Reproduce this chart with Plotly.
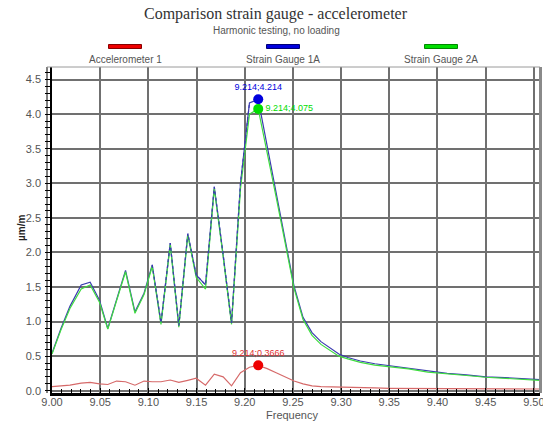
import plotly.graph_objects as go

# ---------------- data ----------------
freq = [9.000, 9.0093, 9.0186, 9.0303, 9.0396, 9.0493, 9.0579, 9.0670, 9.0763, 9.0861,
        9.0955, 9.1040, 9.1131, 9.1227, 9.1316, 9.1409, 9.1496, 9.1593, 9.1684, 9.1776,
        9.1863, 9.1956, 9.2049, 9.2140, 9.2233, 9.2326, 9.2419, 9.2512, 9.2605, 9.2698,
        9.2791, 9.2884, 9.2977, 9.3070, 9.3200, 9.3350, 9.3500, 9.3700, 9.3900, 9.4100,
        9.4300, 9.4500, 9.4700, 9.4900, 9.5060]

strain_1a = [0.54, 0.90, 1.22, 1.53, 1.57, 1.31, 0.90, 1.32, 1.74, 1.14,
             1.41, 1.82, 0.98, 2.135, 0.94, 2.27, 1.675, 1.53, 2.95, 1.965,
             0.98, 3.00, 4.16, 4.214, 3.54, 2.86, 2.19, 1.51, 1.06, 0.84,
             0.71, 0.62, 0.53, 0.48, 0.43, 0.39, 0.36, 0.33, 0.28, 0.25,
             0.23, 0.20, 0.19, 0.17, 0.16]

strain_2a = [0.53, 0.88, 1.19, 1.47, 1.53, 1.28, 0.89, 1.31, 1.72, 1.12,
             1.39, 1.80, 0.96, 2.11, 0.92, 2.25, 1.64, 1.47, 2.92, 1.94,
             0.96, 2.92, 4.00, 4.075, 3.45, 2.80, 2.14, 1.48, 1.03, 0.80,
             0.67, 0.58, 0.50, 0.46, 0.41, 0.37, 0.345, 0.315, 0.27, 0.24,
             0.22, 0.195, 0.18, 0.165, 0.15]

accel_1 = [0.06, 0.07, 0.08, 0.11, 0.12, 0.10, 0.09, 0.14, 0.13, 0.08,
           0.14, 0.13, 0.13, 0.155, 0.12, 0.15, 0.18, 0.08, 0.24, 0.20,
           0.07, 0.26, 0.34, 0.3666, 0.32, 0.26, 0.20, 0.14, 0.10, 0.07,
           0.06, 0.055, 0.05, 0.045, 0.04, 0.04, 0.035, 0.035, 0.03, 0.03,
           0.03, 0.03, 0.025, 0.025, 0.025]

series_names = ["Accelerometer 1", "Strain Gauge 1A", "Strain Gauge 2A"]
peak_freq = 9.214
peak_vals = {"Accelerometer 1": 0.3666, "Strain Gauge 1A": 4.214, "Strain Gauge 2A": 4.075}

# ---------------- layout helpers ----------------
W, H = 543, 423
L, R, T, B = 52, 3, 67, 30
PW, PH = W - L - R, H - T - B


def px(x):
    return (x - L) / PW


def py(y):
    return (H - B - y) / PH


FONT = "Liberation Sans, Arial, sans-serif"
line_cols = {"Accelerometer 1": "#d66a6a", "Strain Gauge 1A": "#3b3bb0", "Strain Gauge 2A": "#3fdc3f"}
mark_cols = {"Accelerometer 1": "#ee0000", "Strain Gauge 1A": "#0000dd", "Strain Gauge 2A": "#00dd00"}

fig = go.Figure()
fig.add_trace(go.Scatter(x=freq, y=accel_1, mode="lines", line=dict(color=line_cols["Accelerometer 1"], width=1.2)))
fig.add_trace(go.Scatter(x=freq, y=strain_1a, mode="lines", line=dict(color=line_cols["Strain Gauge 1A"], width=1.2)))
fig.add_trace(go.Scatter(x=freq, y=strain_2a, mode="lines", line=dict(color=line_cols["Strain Gauge 2A"], width=1.2)))
# overlapping region drawn dashed (as in the reference)
i0, i1 = 11, 23
fig.add_trace(go.Scatter(x=freq[i0:i1], y=strain_1a[i0:i1], mode="lines",
                         line=dict(color=line_cols["Strain Gauge 1A"], width=1.2, dash="3px,3px")))

# peak markers
positions = {"Accelerometer 1": "top center", "Strain Gauge 1A": "top center", "Strain Gauge 2A": "middle right"}
for name in series_names:
    v = peak_vals[name]
    fig.add_trace(go.Scatter(
        x=[peak_freq], y=[v], mode="markers+text",
        marker=dict(color=mark_cols[name], size=10),
        text=[f"{peak_freq:.3f};{v:g}"], textposition=positions[name],
        textfont=dict(family=FONT, size=9, color=mark_cols[name] if name != "Accelerometer 1" else "#e03030"),
    ))

fig.update_layout(
    width=W, height=H, margin=dict(l=L, r=R, t=T, b=B, autoexpand=False),
    paper_bgcolor="white", plot_bgcolor="white", showlegend=False,
    font=dict(family=FONT, size=10, color="#555"),
)

fig.update_xaxes(
    range=[9.0, 9.5064], dtick=0.05, tick0=9.0, tickformat=".2f", automargin=False,
    showgrid=True, gridcolor="#707070", gridwidth=1.5, zeroline=False,
    showline=True, linecolor="black", linewidth=2.5,
    ticks="inside", ticklen=5, tickcolor="black",
    minor=dict(dtick=0.01, ticks="inside", ticklen=4, tickcolor="black", showgrid=False),
    tickfont=dict(family=FONT, size=11, color="#555"),
    ticklabeloverflow="allow",
)
fig.update_yaxes(
    range=[-0.033, 4.681], dtick=0.5, tick0=0, tickformat=".1f", automargin=False,
    showgrid=True, gridcolor="#707070", gridwidth=1.5, zeroline=False,
    showline=True, linecolor="black", linewidth=1.5,
    ticks="outside", ticklen=5, tickcolor="black",
    minor=dict(dtick=0.1, ticks="outside", ticklen=5, tickcolor="black", showgrid=False),
    tickfont=dict(family=FONT, size=11, color="#555"),
    ticklabelstandoff=2,
)

shapes = [
    # outer ladder line of y axis
    dict(type="line", xref="paper", yref="paper", x0=px(47), x1=px(47), y0=0, y1=1,
         line=dict(color="black", width=1)),
    # right and top borders
    dict(type="line", xref="paper", yref="paper", x0=px(540.5), x1=px(540.5), y0=0, y1=1,
         line=dict(color="#8a8a8a", width=3)),
    dict(type="line", xref="paper", yref="paper", x0=px(47), x1=1, y0=1, y1=1,
         line=dict(color="#9a9a9a", width=1)),
]


def ann(text, x, y, size, color="#555", family=FONT, **kw):
    return dict(text=text, x=px(x), y=py(y), xref="paper", yref="paper", xanchor="center",
                yanchor="middle", showarrow=False, font=dict(family=family, size=size, color=color, **kw.pop("fkw", {})), **kw)


annotations = [
    ann("Comparison strain gauge - accelerometer", 276, 14, 16, "#333",
        family="Liberation Serif, Times New Roman, serif"),
    ann("Harmonic testing, no loading", 276, 30, 10),
    ann("µm/m", 21, 228, 10, "#222", textangle=-90, fkw={"weight": "bold"}),
    ann("Frequency", 292, 415, 11),
]
legend_x = {"Accelerometer 1": 125, "Strain Gauge 1A": 283, "Strain Gauge 2A": 441}
legend_edge = {"Accelerometer 1": "#880000", "Strain Gauge 1A": "#000077", "Strain Gauge 2A": "#008800"}
for name in series_names:
    cx = legend_x[name]
    shapes.append(dict(type="rect", xref="paper", yref="paper",
                       x0=px(cx - 16.5), x1=px(cx + 16.5), y0=py(48.5), y1=py(44.5),
                       fillcolor=mark_cols[name], line=dict(color=legend_edge[name], width=1)))
    annotations.append(ann(name, cx, 60, 10))

fig.update_layout(shapes=shapes, annotations=annotations)
fig.write_html("out.html", config={"displayModeBar": False},
               post_script="document.body.style.margin='0';document.body.style.overflow='hidden';"
                           "document.querySelectorAll('.xtick text').forEach(function(t){"
                           "var y=parseFloat(t.getAttribute('y')||0);t.setAttribute('y',y-3);});")
